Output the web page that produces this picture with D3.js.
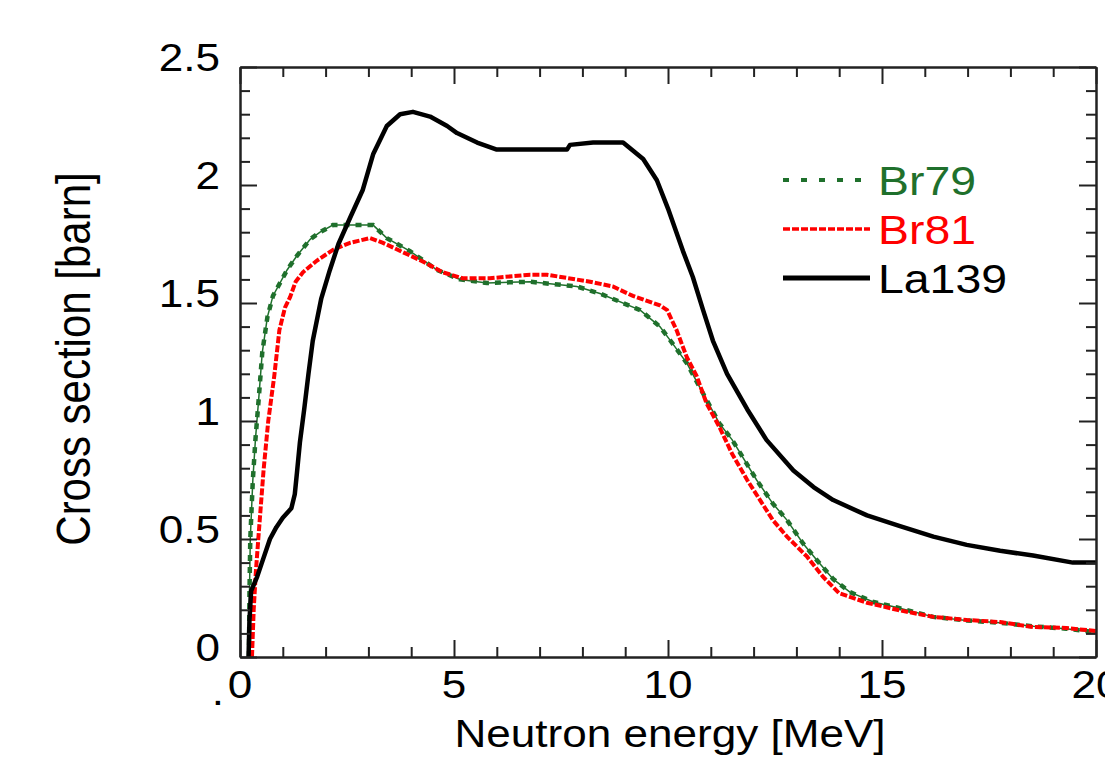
<!DOCTYPE html>
<html>
<head>
<meta charset="utf-8">
<script src="https://cdn.jsdelivr.net/npm/d3@7"></script>
<style>
  body { margin: 0; background: #fff; }
  svg { display: block; }
  text { font-family: "Liberation Sans", Arial, sans-serif; }
</style>
</head>
<body>
<script>
// data: [energy MeV, cross section barn]
const br79 = [[0.21,0],[0.22,0.25],[0.24,0.5],[0.3,0.75],[0.36,0.92],[0.44,1.1],[0.52,1.29],[0.64,1.44],
  [0.77,1.53],[1.1,1.64],[1.33,1.70],[1.64,1.77],[1.87,1.80],[2.17,1.83],[3.11,1.83],[3.43,1.775],
  [3.97,1.72],[4.6,1.64],[5.14,1.60],[5.77,1.585],[6.78,1.59],[7.87,1.57],[8.41,1.54],[9.35,1.47],
  [9.81,1.40],[10.1,1.33],[10.44,1.245],[10.75,1.14],[11.2,0.99],[11.5,0.92],[12.07,0.75],[12.45,0.65],
  [12.78,0.58],[13.16,0.48],[13.48,0.41],[13.86,0.33],[14.25,0.275],[14.8,0.233],[15.35,0.21],
  [16.2,0.17],[16.98,0.155],[17.76,0.145],[18.53,0.13],[19.3,0.12],[20,0.105]];

const br81 = [[0.28,0],[0.32,0.2],[0.37,0.36],[0.44,0.53],[0.55,0.79],[0.66,1.0],[0.8,1.19],[0.92,1.385],
  [1.05,1.48],[1.17,1.525],[1.3,1.59],[1.47,1.63],[1.8,1.68],[2.17,1.725],[2.57,1.755],[3.04,1.775],
  [3.34,1.755],[3.81,1.715],[4.28,1.675],[4.74,1.63],[5.2,1.605],[5.84,1.605],[6.78,1.62],[7.17,1.62],
  [8.18,1.59],[8.71,1.57],[9.18,1.53],[9.81,1.49],[9.98,1.47],[10.2,1.385],[10.44,1.27],[10.67,1.19],
  [10.9,1.075],[11.2,0.975],[11.5,0.86],[11.85,0.75],[12.15,0.665],[12.45,0.58],[12.78,0.51],
  [13.25,0.425],[13.62,0.34],[14.0,0.27],[14.65,0.23],[15.35,0.20],[16.2,0.17],[16.98,0.157],
  [17.76,0.148],[18.53,0.127],[19.3,0.123],[20,0.11]];

const la139 = [[0.2,0],[0.22,0.15],[0.26,0.28],[0.4,0.34],[0.55,0.42],[0.7,0.5],[0.85,0.55],[1.0,0.59],
  [1.2,0.63],[1.28,0.69],[1.33,0.78],[1.4,0.91],[1.5,1.05],[1.6,1.2],[1.7,1.34],[1.9,1.52],[2.1,1.64],
  [2.3,1.75],[2.57,1.86],[2.87,1.98],[3.11,2.13],[3.43,2.25],[3.74,2.30],[4.04,2.31],[4.44,2.29],
  [4.84,2.25],[5.07,2.22],[5.54,2.18],[6.0,2.15],[7.64,2.15],[7.71,2.17],[8.25,2.18],[8.95,2.18],
  [9.42,2.11],[9.74,2.02],[10.0,1.9],[10.35,1.72],[10.58,1.61],[10.82,1.47],[11.05,1.34],[11.38,1.20],
  [11.85,1.05],[12.3,0.92],[12.93,0.79],[13.4,0.72],[13.86,0.665],[14.65,0.6],[15.42,0.555],
  [16.2,0.51],[16.98,0.475],[17.76,0.45],[18.53,0.43],[19.46,0.40],[20,0.40]];

const xTicks = [0, 5, 10, 15, 20];
const xTickLabels = ["0", "5", "10", "15", "20"];
const yTicks = [0, 0.5, 1, 1.5, 2, 2.5];
const yTickLabels = ["0", "0.5", "1", "1.5", "2", "2.5"];
const legendNames = ["Br79", "Br81", "La139"];

const width = 1105, height = 757;
const plotLeft = 240, plotRight = 1096, plotTop = 67, plotBottom = 657;
const sx = 1.16; // the picture is stretched sideways

const svg = d3.select("body").append("svg")
  .attr("width", width)
  .attr("height", height);

const x = d3.scaleLinear().domain([0, 20]).range([plotLeft, plotRight]);
const y = d3.scaleLinear().domain([0, 2.5]).range([plotBottom, plotTop]);

const line = d3.line().x(d => x(d[0])).y(d => y(d[1]));

// stretched text helper
const label = (px, py, txt, size, anchor, fill) =>
  svg.append("text")
    .attr("transform", `translate(${px},${py}) scale(${sx},1)`)
    .attr("text-anchor", anchor)
    .attr("font-size", size)
    .attr("fill", fill || "#000")
    .text(txt);

//curves
const plot = svg.append("g");

plot.append("path").datum(br79)
  .attr("d", line).attr("fill", "none")
  .attr("stroke", "#1f702c").attr("stroke-width", 1.5);
plot.append("path").datum(br79)
  .attr("d", line).attr("fill", "none")
  .attr("stroke", "#1f702c").attr("stroke-width", 4.5)
  .attr("stroke-dasharray", "6,6");

plot.append("path").datum(br81)
  .attr("d", line).attr("fill", "none")
  .attr("stroke", "#ff0000").attr("stroke-width", 4)
  .attr("stroke-dasharray", "7,2");

plot.append("path").datum(la139)
  .attr("d", line).attr("fill", "none")
  .attr("stroke", "#000").attr("stroke-width", 4.5)
  .attr("stroke-linejoin", "round");

//axes, ticks inside on all four sides
const axisColor = "#222";
const minorX = d3.range(0, 21, 1).filter(v => v % 5 !== 0);
const minorY = d3.range(0, 26, 1).map(v => v / 10).filter((v, i) => i % 5 !== 0);

const addAxis = (axis, tr) => {
  const g = svg.append("g").attr("transform", tr).call(axis);
  g.selectAll("text").remove();
  g.select(".domain").attr("stroke", axisColor).attr("stroke-width", 2);
  g.selectAll(".tick line").attr("stroke", axisColor).attr("stroke-width", 2);
  return g;
};

[[d3.axisBottom, `translate(0,${plotBottom})`], [d3.axisTop, `translate(0,${plotTop})`]].forEach(([ax, tr]) => {
  addAxis(ax(x).tickValues(xTicks).tickSizeInner(-17).tickSizeOuter(0), tr);
  addAxis(ax(x).tickValues(minorX).tickSizeInner(-10).tickSizeOuter(0), tr);
});
[[d3.axisLeft, `translate(${plotLeft},0)`], [d3.axisRight, `translate(${plotRight},0)`]].forEach(([ax, tr]) => {
  addAxis(ax(y).tickValues(yTicks).tickSizeInner(-17).tickSizeOuter(0), tr);
  addAxis(ax(y).tickValues(minorY).tickSizeInner(-10).tickSizeOuter(0), tr);
});

//tick labels
xTicks.forEach((v, i) => label(x(v), 698, xTickLabels[i], 38, "middle"));
label(218, 705, ".", 38, "middle");
yTicks.forEach((v, i) => label(220, y(v) + 4, yTickLabels[i], 38, "end"));

//axis titles
label(670, 747, "Neutron energy [MeV]", 38, "middle");
svg.append("text")
  .attr("transform", `translate(90,359) scale(${sx},1) rotate(-90)`)
  .attr("text-anchor", "middle")
  .attr("font-size", 42)
  .text("Cross section [barn]");

//legend
const legendColors = ["#1f702c", "#ff0000", "#000"];
const legendY = [180, 229, 278];
const legendDash = ["6,12", "7,2", null];
const legendWidth = [4, 3.5, 5];
legendNames.forEach((name, i) => {
  svg.append("line")
    .attr("x1", 783).attr("x2", 870)
    .attr("y1", legendY[i]).attr("y2", legendY[i])
    .attr("stroke", legendColors[i])
    .attr("stroke-width", legendWidth[i])
    .attr("stroke-dasharray", legendDash[i]);
  label(878, legendY[i] + 15, name, 40, "start", legendColors[i]);
});
</script>
</body>
</html>
